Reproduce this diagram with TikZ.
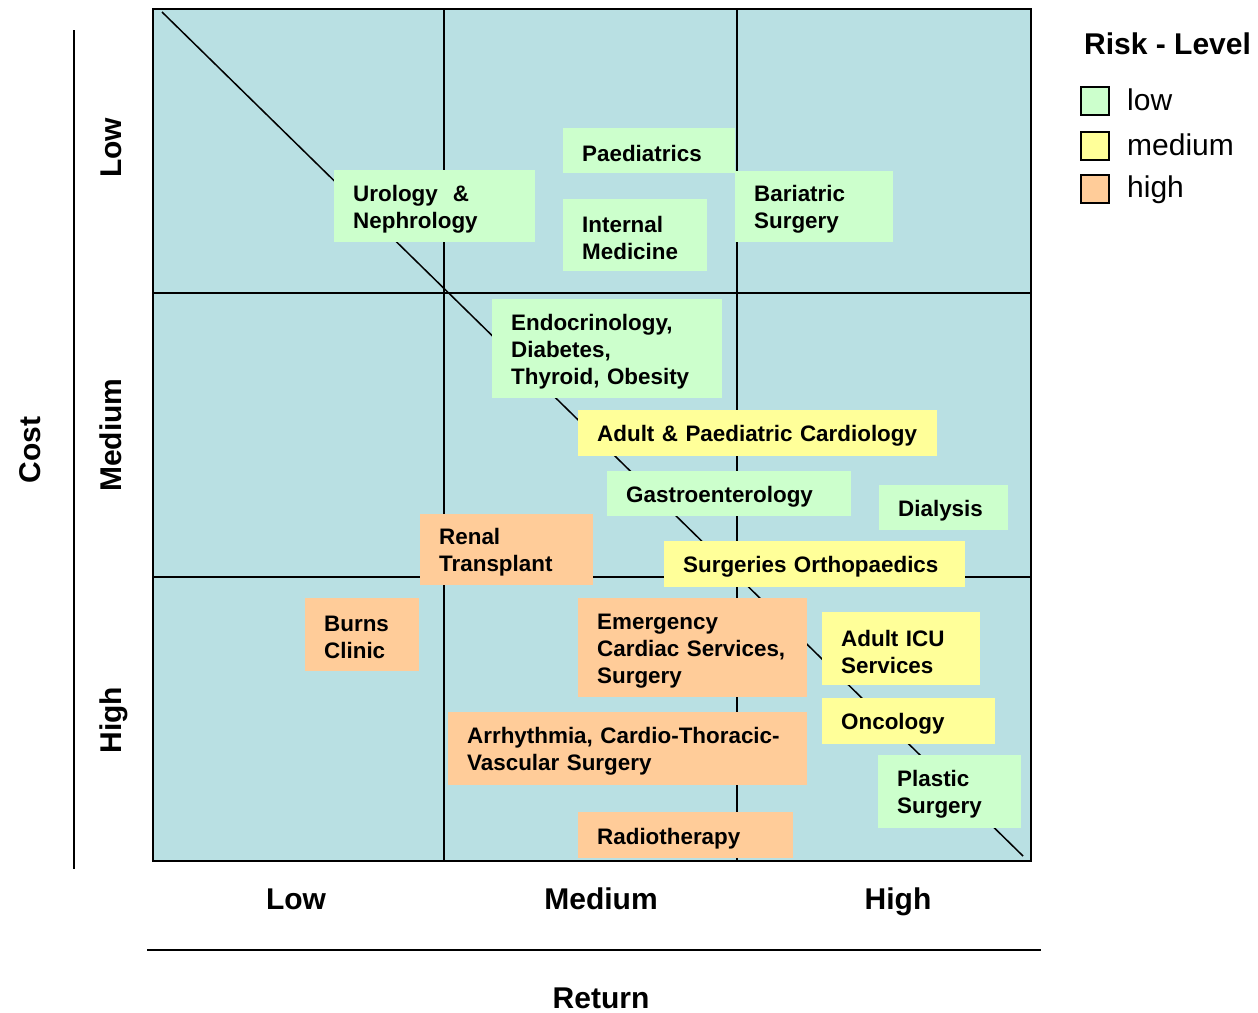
\documentclass[tikz,border=0pt]{standalone}
\usepackage{fontspec}
\setmainfont{Liberation Sans}
\definecolor{plotbg}{RGB}{185,224,227}
\definecolor{risklow}{RGB}{204,255,204}
\definecolor{riskmed}{RGB}{255,255,153}
\definecolor{riskhigh}{RGB}{255,204,153}
\tikzset{
  cellfill/.style={rectangle, anchor=north west, inner sep=0pt},
  celltext/.style={anchor=west, inner sep=0pt, align=left,
    font=\fontsize{22.4}{27}\selectfont\bfseries},
  gridline/.style={line width=2pt, black},
  axislabel/.style={font=\fontsize{30}{34}\selectfont\bfseries, inner sep=0pt},
  legendbox/.style={draw=black, line width=1.5pt, minimum size=28pt, inner sep=0pt, anchor=north west},
  legendtext/.style={font=\fontsize{30}{34}\selectfont, anchor=base west, inner sep=0pt}
}
% box: name, colour, left, top, right, bottom, text
\newcommand\riskcell[7]{%
  \pgfmathsetmacro\cellw{#5-#3}%
  \pgfmathsetmacro\cellh{#6-#4}%
  \pgfmathsetmacro\celltw{#5-#3-38}%
  \node[cellfill, fill=#2, minimum width=\cellw pt, minimum height=\cellh pt] (#1) at (#3,#4) {};
  \node[celltext, text width=\celltw pt] (#1text) at ([xshift=19pt,yshift=-3pt]#1.west) {#7};}
\begin{document}
\begin{tikzpicture}[x=1pt,y=-1pt]
\useasboundingbox (0,0) rectangle (1258,1012);
\fill[white] (0,0) rectangle (1258,1012);

% plot area
\fill[plotbg] (153,9) rectangle (1031,861);
\coordinate (v1t) at (444,9);   \coordinate (v1b) at (444,861);
\coordinate (v2t) at (737,9);   \coordinate (v2b) at (737,861);
\coordinate (h1l) at (153,293); \coordinate (h1r) at (1031,293);
\coordinate (h2l) at (153,577); \coordinate (h2r) at (1031,577);
\draw[gridline] (v1t) -- (v1b);
\draw[gridline] (v2t) -- (v2b);
\draw[gridline] (h1l) -- (h1r);
\draw[gridline] (h2l) -- (h2r);
\coordinate (dstart) at (162,12);
\coordinate (dend) at (1023,856);
\draw[line width=1.5pt] (dstart) -- (dend);

% departments
\riskcell{paed}{risklow}{563}{128}{735}{173}{Paediatrics}
\riskcell{uro}{risklow}{334}{170}{535}{242}{Urology \ \&\\Nephrology}
\riskcell{intmed}{risklow}{563}{199}{707}{271}{Internal\\Medicine}
\riskcell{bari}{risklow}{735}{171}{893}{242}{Bariatric\\Surgery}
\riskcell{endo}{risklow}{492}{299}{722}{398}{Endocrinology,\\Diabetes,\\Thyroid, Obesity}
\riskcell{cardio}{riskmed}{578}{410}{937}{456}{Adult \& Paediatric Cardiology}
\riskcell{gastro}{risklow}{607}{471}{851}{516}{Gastroenterology}
\riskcell{dial}{risklow}{879}{485}{1008}{530}{Dialysis}
\riskcell{renal}{riskhigh}{420}{514}{593}{585}{Renal\\Transplant}
\riskcell{ortho}{riskmed}{664}{541}{965}{587}{Surgeries Orthopaedics}
\riskcell{burns}{riskhigh}{305}{598}{419}{671}{Burns\\Clinic}
\riskcell{emerg}{riskhigh}{578}{598}{807}{697}{Emergency\\Cardiac Services,\\Surgery}
\riskcell{icu}{riskmed}{822}{612}{980}{685}{Adult ICU\\Services}
\riskcell{onco}{riskmed}{822}{698}{995}{744}{Oncology}
\riskcell{arrh}{riskhigh}{448}{712}{807}{785}{Arrhythmia, Cardio-Thoracic-\\Vascular Surgery}
\riskcell{plastic}{risklow}{878}{755}{1021}{828}{Plastic\\Surgery}
\riskcell{radio}{riskhigh}{578}{812}{793}{858}{Radiotherapy}

% frame
\draw[line width=2.5pt] (153,9) rectangle (1031,861);

% axes
\coordinate (yat) at (74,30);  \coordinate (yab) at (74,869);
\coordinate (xal) at (147,950); \coordinate (xar) at (1041,950);
\draw[line width=2.5pt] (yat) -- (yab);
\draw[line width=2.5pt] (xal) -- (xar);

\node[axislabel, rotate=90, anchor=base] (costlbl) at (40,450) {Cost};
\node[axislabel, rotate=90, anchor=base] (clow) at (121,148) {Low};
\node[axislabel, rotate=90, anchor=base] (cmed) at (121,435) {Medium};
\node[axislabel, rotate=90, anchor=base] (chigh) at (121,720) {High};
\node[axislabel, anchor=base] (rlow) at (296,909) {Low};
\node[axislabel, anchor=base] (rmed) at (601,909) {Medium};
\node[axislabel, anchor=base] (rhigh) at (898,909) {High};
\node[axislabel, anchor=base] (retlbl) at (601,1008) {Return};

% legend
\node[axislabel, anchor=base west] (legtitle) at (1084,54) {Risk - Level};
\node[legendbox, fill=risklow] (lglow) at (1080,86) {};
\node[legendbox, fill=riskmed] (lgmed) at (1080,131) {};
\node[legendbox, fill=riskhigh] (lghigh) at (1080,174) {};
\node[legendtext] (ltlow) at (1127,110) {low};
\node[legendtext] (ltmed) at (1127,155) {medium};
\node[legendtext] (lthigh) at (1127,197) {high};
\end{tikzpicture}
\end{document}
